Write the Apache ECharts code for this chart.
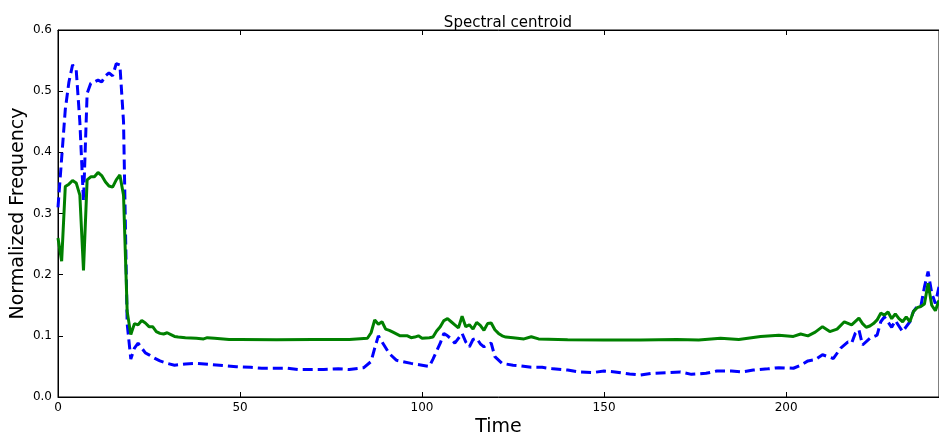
<!DOCTYPE html>
<html>
<head>
<meta charset="utf-8">
<script src="https://cdn.jsdelivr.net/npm/echarts@6/dist/echarts.min.js"></script>
<style>
  html, body { margin: 0; padding: 0; background: #fff; overflow: hidden; }
  #spectral-centroid { width: 939px; height: 435px; }
</style>
</head>
<body>
<div id="spectral-centroid"></div>
<script>
// green solid line
const greenTime = [0, 1, 2, 3, 4, 5, 6, 7, 8, 9, 10, 11, 12, 13, 14, 15, 16, 17, 18, 19, 20, 21, 22, 23, 24, 25, 26, 27, 28, 29, 30, 31, 32, 33, 35, 38, 40, 41, 43, 47, 50, 60, 70, 80, 85, 86, 87, 88, 89, 90, 91, 92, 94, 96, 97, 98, 99, 100, 102, 103, 104, 105, 106, 107, 108, 109, 110, 111, 112, 113, 114, 115, 116, 117, 118, 119, 120, 121, 122, 123, 125, 128, 130, 132, 140, 150, 160, 170, 176, 182, 187, 193, 198, 202, 204, 206, 208, 210, 212, 214, 216, 218, 220, 221, 222, 223, 224, 225, 226, 227, 228, 229, 230, 231, 232, 233, 234, 235, 236, 237, 238, 239, 240, 241, 242];
const greenValue = [0.26, 0.222, 0.344, 0.348, 0.354, 0.35, 0.33, 0.207, 0.355, 0.36, 0.36, 0.367, 0.362, 0.352, 0.345, 0.343, 0.355, 0.363, 0.33, 0.14, 0.102, 0.12, 0.118, 0.125, 0.121, 0.115, 0.115, 0.107, 0.104, 0.103, 0.105, 0.102, 0.099, 0.098, 0.097, 0.096, 0.095, 0.097, 0.096, 0.094, 0.094, 0.0935, 0.094, 0.094, 0.096, 0.105, 0.126, 0.119, 0.123, 0.111, 0.109, 0.106, 0.1, 0.1, 0.097, 0.098, 0.1, 0.096, 0.097, 0.098, 0.108, 0.115, 0.125, 0.128, 0.123, 0.118, 0.113, 0.132, 0.115, 0.118, 0.111, 0.122, 0.117, 0.109, 0.12, 0.121, 0.11, 0.104, 0.1, 0.098, 0.097, 0.095, 0.0986, 0.095, 0.0935, 0.093, 0.093, 0.094, 0.093, 0.096, 0.094, 0.099, 0.101, 0.099, 0.103, 0.1, 0.106, 0.115, 0.107, 0.111, 0.123, 0.118, 0.129, 0.12, 0.114, 0.116, 0.12, 0.126, 0.137, 0.134, 0.139, 0.128, 0.136, 0.128, 0.123, 0.131, 0.123, 0.14, 0.146, 0.148, 0.152, 0.186, 0.15, 0.141, 0.158];

// blue dashed line
const blueTime = [0, 1, 2, 3, 4, 5, 6, 7, 8, 9, 10, 11, 12, 13, 14, 15, 16, 17, 18, 19, 20, 21, 22, 23, 24, 25, 26, 28, 30, 32, 35, 38, 42, 46, 49, 53, 56, 60, 63, 66, 70, 73, 77, 80, 84, 86, 87, 88, 89, 91, 93, 97, 100, 102, 103, 105, 106, 107, 108, 109, 111, 112, 113, 114, 115, 116, 117, 118, 119, 120, 122, 125, 127, 130, 133, 136, 140, 143, 147, 150, 153, 157, 160, 163, 167, 171, 174, 178, 181, 185, 188, 191, 195, 198, 202, 204, 206, 208, 210, 213, 215, 217, 218, 219, 220, 221, 223, 225, 226, 227, 229, 230, 232, 233, 234, 235, 236, 237, 238, 239, 240, 241, 242];
const blueValue = [0.31, 0.39, 0.47, 0.515, 0.543, 0.535, 0.45, 0.32, 0.496, 0.513, 0.515, 0.518, 0.515, 0.525, 0.53, 0.525, 0.545, 0.543, 0.45, 0.12, 0.062, 0.08, 0.088, 0.08, 0.072, 0.069, 0.065, 0.059, 0.055, 0.052, 0.054, 0.055, 0.053, 0.051, 0.0496, 0.0485, 0.047, 0.047, 0.047, 0.045, 0.045, 0.045, 0.046, 0.045, 0.048, 0.058, 0.08, 0.1, 0.09, 0.071, 0.06, 0.055, 0.052, 0.05, 0.062, 0.088, 0.104, 0.1, 0.095, 0.088, 0.104, 0.09, 0.082, 0.094, 0.096, 0.087, 0.082, 0.086, 0.088, 0.066, 0.055, 0.052, 0.051, 0.0485, 0.0485, 0.046, 0.044, 0.041, 0.04, 0.0425, 0.041, 0.0376, 0.036, 0.0387, 0.0397, 0.041, 0.037, 0.0387, 0.0425, 0.0425, 0.041, 0.044, 0.046, 0.048, 0.047, 0.052, 0.059, 0.061, 0.069, 0.063, 0.08, 0.09, 0.088, 0.104, 0.11, 0.085, 0.096, 0.101, 0.123, 0.131, 0.114, 0.125, 0.107, 0.115, 0.123, 0.14, 0.148, 0.148, 0.18, 0.205, 0.17, 0.153, 0.18];

const xTicks = [0, 50, 100, 150, 200];
const yTicks = [0.0, 0.1, 0.2, 0.3, 0.4, 0.5, 0.6];

const chart = echarts.init(document.getElementById("spectral-centroid"), null, { width: 939, height: 435 });
const font = "DejaVu Sans";

const pairs = (xs, ys) => xs.map((x, i) => [x, ys[i]]);

const option = {
  animation: false,
  title: {
    text: "Spectral centroid",
    left: 503,
    top: 11,
    textAlign: "center",
    textStyle: { fontFamily: font, fontSize: 15, fontWeight: "normal", color: "#000" }
  },
  grid: {
    left: 58, right: 0, top: 30, bottom: 38, containLabel: false,
    outerBoundsMode: "none",
    show: true, borderColor: "#000", borderWidth: 1, backgroundColor: "transparent"
  },
  xAxis: [
    {
      type: "value",
      min: 0,
      max: 242,
      interval: 50,
      name: "Time",
      nameLocation: "middle",
      nameGap: 21,
      nameMoveOverlap: false,
      nameTextStyle: { fontFamily: font, fontSize: 19, color: "#000" },
      axisLine: { onZero: false, lineStyle: { color: "#000", width: 1 } },
      axisTick: { inside: true, length: 5, lineStyle: { color: "#000" } },
      axisLabel: {
        fontFamily: font, fontSize: 12, color: "#000", margin: 5,
        formatter: v => (xTicks.includes(v) ? String(v) : "")
      },
      splitLine: { show: false }
    },
    {
      type: "value",
      position: "top",
      min: 0,
      max: 242,
      interval: 50,
      axisLine: { show: true, onZero: false, lineStyle: { color: "#000", width: 1 } },
      axisTick: { show: true, inside: true, length: 5, lineStyle: { color: "#000" } },
      axisLabel: { show: false },
      splitLine: { show: false }
    }
  ],
  yAxis: {
    type: "value",
    min: 0,
    max: 0.6,
    interval: 0.1,
    name: "Normalized Frequency",
    nameLocation: "middle",
    nameGap: 30,
    nameMoveOverlap: false,
    nameTextStyle: { fontFamily: font, fontSize: 19, color: "#000" },
    axisLine: { show: true, onZero: false, lineStyle: { color: "#000", width: 1 } },
    axisTick: { show: true, inside: true, length: 5, lineStyle: { color: "#000" } },
    axisLabel: {
      fontFamily: font, fontSize: 12, color: "#000", margin: 6,
      formatter: v => yTicks.find(t => Math.abs(t - v) < 1e-9).toFixed(1)
    },
    splitLine: { show: false }
  },
  series: [
    {
      name: "blue",
      type: "line",
      data: pairs(blueTime, blueValue),
      showSymbol: false,
      lineStyle: { color: "#0000ff", width: 3, type: [10, 5], cap: "butt" },
      z: 2
    },
    {
      name: "green",
      type: "line",
      data: pairs(greenTime, greenValue),
      showSymbol: false,
      lineStyle: { color: "#008000", width: 3 },
      z: 3
    }
  ]
};

chart.setOption(option);
</script>
</body>
</html>
